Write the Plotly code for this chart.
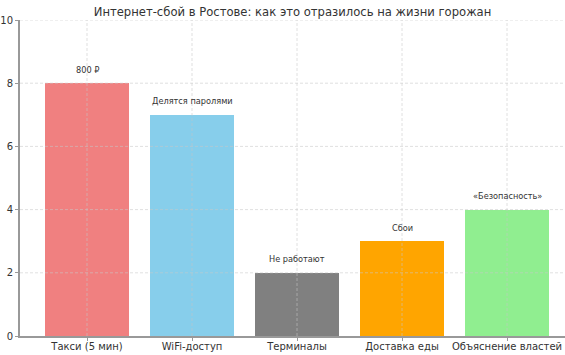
import plotly.graph_objects as go

categories = ["Такси (5 мин)", "WiFi-доступ", "Терминалы", "Доставка еды", "Объяснение властей"]
values = [8, 7, 2, 3, 4]
notes = ["800 ₽", "Делятся паролями", "Не работают", "Сбои", "«Безопасность»"]
colors = ["#F08080", "#87CEEB", "#808080", "#FFA500", "#90EE90"]
y_ticks = [0, 2, 4, 6, 8, 10]
title = "Интернет-сбой в Ростове: как это отразилось на жизни горожан"

FONT = "DejaVu Sans"
xpos = list(range(len(categories)))

fig = go.Figure()
fig.add_trace(go.Bar(x=xpos, y=values, marker=dict(color=colors, line=dict(width=0)),
                     width=0.8, showlegend=False, hoverinfo="skip"))

grid_col = "rgba(200,200,200,0.7)"
for t in y_ticks[1:]:
    fig.add_shape(type="line", xref="paper", x0=0, x1=1, yref="y", y0=t, y1=t,
                  line=dict(color=grid_col, width=0.8, dash="3px,2px"), layer="above")
for xp in xpos:
    fig.add_shape(type="line", xref="x", x0=xp, x1=xp, yref="paper", y0=0, y1=1,
                  line=dict(color=grid_col, width=0.8, dash="3px,2px"), layer="above")

for xp, v, n in zip(xpos, values, notes):
    fig.add_annotation(x=xp, y=v + 0.3, text=n, showarrow=False, yanchor="bottom", yshift=-3,
                       xanchor="center", font=dict(family=FONT, size=8.2, color="#333333"))

fig.update_layout(
    width=565, height=355,
    margin=dict(l=20, r=0, t=20, b=19),
    plot_bgcolor="white", paper_bgcolor="white",
    bargap=0,
    title=dict(text=title, x=0.5, xanchor="center", xref="paper", y=1 - 12 / 355, yanchor="middle",
               font=dict(family=FONT, size=11.6, color="#333333")),
    font=dict(family=FONT, size=10, color="#333333"),
)
fig.update_xaxes(range=[-0.638, 4.552], tickmode="array", tickvals=xpos, ticktext=categories,
                 showgrid=False, zeroline=False, showline=True, linecolor="#999999", linewidth=1.5,
                 ticks="outside", ticklen=3, tickcolor="#999999", ticklabeloverflow="allow",
                 ticklabelstandoff=-3,
                 tickfont=dict(family=FONT, size=10, color="#333333"))
fig.update_yaxes(range=[0, 10], tickvals=y_ticks, showgrid=False, zeroline=False,
                 showline=True, linecolor="#999999", linewidth=2,
                 ticks="outside", ticklen=3, tickcolor="#999999",
                 tickfont=dict(family=FONT, size=10, color="#333333"))

fig.write_html("out.html")
